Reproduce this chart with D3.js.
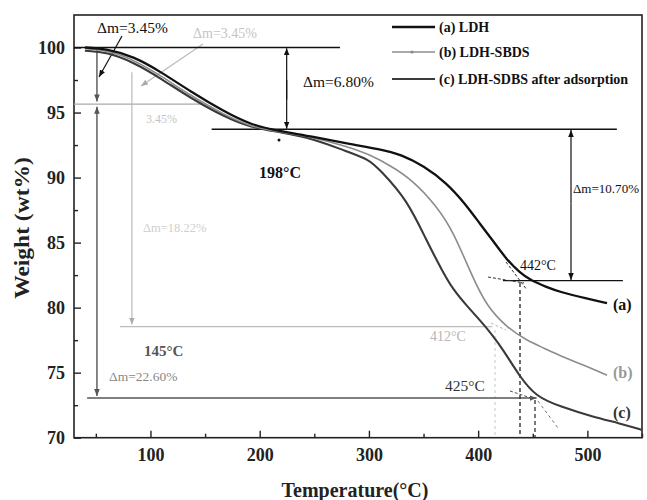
<!DOCTYPE html>
<html><head><meta charset="utf-8">
<script src="https://cdn.jsdelivr.net/npm/d3@7/dist/d3.min.js"></script>
<style>
body{margin:0;background:#fff}
text{font-family:"Liberation Serif","Times New Roman",serif}
</style>
</head><body>
<svg id="chart" width="647" height="500"></svg>
<script>
// ---- data ----
const seriesNames = ["(a) LDH", "(b) LDH-SBDS", "(c) LDH-SDBS after adsorption"];
const tempA   = [40,60,85,110,137,167,192,219,249,280,310,330,350,371,389,402,414,426,438,448,462,475,499,518];
const weightA = [100.0,99.9,99.3,98.1,96.6,95.1,94.05,93.55,93.15,92.6,92.2,91.75,90.9,89.6,87.9,86.4,85.1,83.7,82.7,82.1,81.6,81.2,80.7,80.35];
const tempB   = [40,60,85,110,137,167,192,219,249,280,300,320,340,362,377,395,408,426,444,460,475,496,518];
const weightB = [99.9,99.8,99.05,97.8,96.3,94.85,93.9,93.5,93.1,92.4,91.8,90.9,89.8,87.8,85.9,82.3,80.1,78.5,77.5,76.9,76.3,75.6,74.8];
const tempC   = [40,60,85,110,137,167,192,219,249,280,300,310,335,353,368,377,390,402,413,423,438,453,475,505,530,550];
const weightC = [99.75,99.65,98.85,97.6,96.1,94.7,93.85,93.5,93.0,92.0,91.4,90.6,88.3,85.1,82.7,81.4,80.1,79.0,77.9,76.75,74.7,73.15,72.4,71.6,71.1,70.6];
const xTicks = [100,200,300,400,500];
const yTicks = [70,75,80,85,90,95,100];
const xMinor = [50,150,250,350,450,550];
const yMinor = [72.5,77.5,82.5,87.5,92.5,97.5];

// ---- layout ----
const svg = d3.select("#chart");
const L=74, R=642, T=15, B=437.7;
const x = d3.scaleLinear().domain([30,550]).range([L,R]);
const y = d3.scaleLinear().domain([70,102.5]).range([B,T]);

// markers
const defs = svg.append("defs");
function marker(id,color){
  defs.append("marker").attr("id",id).attr("viewBox","0 0 10 10").attr("refX",10).attr("refY",5)
    .attr("markerWidth",7).attr("markerHeight",7).attr("markerUnits","userSpaceOnUse").attr("orient","auto-start-reverse")
    .append("path").attr("d","M0,1 L10,5 L0,9 z").attr("fill",color);
}
marker("arK","#111"); marker("arG","#aaa"); marker("arD","#555");

// axes
const xAxis = svg.append("g").attr("transform",`translate(0,${B})`)
  .call(d3.axisBottom(x).tickValues(xTicks).tickSizeInner(-7).tickSizeOuter(0).tickPadding(11));
const xAxisMinor = svg.append("g").attr("transform",`translate(0,${B})`)
  .call(d3.axisBottom(x).tickValues(xMinor).tickSizeInner(-4).tickSizeOuter(0).tickFormat(""));
const yAxis = svg.append("g").attr("transform",`translate(${L},0)`)
  .call(d3.axisLeft(y).tickValues(yTicks).tickSizeInner(-7).tickSizeOuter(0).tickPadding(9));
const yAxisMinor = svg.append("g").attr("transform",`translate(${L},0)`)
  .call(d3.axisLeft(y).tickValues(yMinor).tickSizeInner(-4).tickSizeOuter(0).tickFormat(""));
[xAxis,xAxisMinor,yAxis,yAxisMinor].forEach(g=>{
  g.select(".domain").remove();
  g.selectAll("line").attr("stroke","#222").attr("stroke-width",1.4);
  g.selectAll("text").attr("font-size",18).attr("font-weight","bold").attr("fill","#222")
    .style("font-family",'"Liberation Serif",serif');
});
svg.append("rect").attr("x",L).attr("y",T).attr("width",R-L).attr("height",B-T)
  .attr("fill","none").attr("stroke","#222").attr("stroke-width",1.6);

// axis titles
svg.append("text").attr("x",(L+R)/2-3).attr("y",497).attr("text-anchor","middle")
  .attr("font-size",20).attr("font-weight","bold").attr("fill","#222").text("Temperature(°C)");
svg.append("text").attr("transform","translate(29,228) rotate(-90) scale(1.12,1)").attr("text-anchor","middle")
  .attr("font-size",21).attr("font-weight","bold").attr("fill","#222").text("Weight (wt%)");

// annotation helpers (data coords)
function seg(t1,w1,t2,w2,col,wd,opts={}){
  const l = svg.append("line").attr("x1",x(t1)).attr("y1",y(w1)).attr("x2",x(t2)).attr("y2",y(w2))
    .attr("stroke",col).attr("stroke-width",wd);
  if(opts.dash) l.attr("stroke-dasharray",opts.dash);
  if(opts.end) l.attr("marker-end",`url(#${opts.end})`);
  if(opts.start) l.attr("marker-start",`url(#${opts.start})`);
  return l;
}
function pseg(x1,y1,x2,y2,col,wd,opts={}){
  const l = svg.append("line").attr("x1",x1).attr("y1",y1).attr("x2",x2).attr("y2",y2)
    .attr("stroke",col).attr("stroke-width",wd);
  if(opts.dash) l.attr("stroke-dasharray",opts.dash);
  if(opts.end) l.attr("marker-end",`url(#${opts.end})`);
  return l;
}
function label(px,py,txt,col,size,bold){
  return svg.append("text").attr("x",px).attr("y",py).attr("fill",col).attr("font-size",size)
    .attr("font-weight",bold?"bold":"normal").text(txt);
}

// gray (b) annotations
seg(30,95.65,148,95.65,"#aaa",1.2);
seg(83,98.1,83,78.7,"#bbb",1.2,{end:"arG"});
seg(72,78.54,413,78.54,"#bbb",1.4);
pseg(203,44,141,86,"#bbb",1.2,{end:"arG"});
label(193,38,"Δm=3.45%","#c4c4c4",14,false);
label(146,123,"3.45%","#c4c4c4",12,false);
label(143,232,"Δm=18.22%","#cfcfcf",12.5,false);
label(430,341,"412°C","#b5b5b5",14,false);
pseg(491,323,506,330,"#bbb",1,{dash:"3,2"});
pseg(495,330,495,436,"#dadada",1.5,{dash:"3,3"});

// dark (c) annotations
seg(51,100,51,95.85,"#555",1.4,{end:"arD"});
seg(51,95.45,51,73.2,"#555",1.4,{end:"arD",start:"arD"});
seg(42,73.05,453.5,73.05,"#555",1.4,{end:"arD"});
label(144,356,"145°C","#555",15,true);
label(109,381,"Δm=22.60%","#888",13.5,false);
label(445,391,"425°C","#333",15.5,false);
pseg(510,391,531,398,"#555",1,{dash:"3,2"});
pseg(538,401,558,428,"#777",1,{dash:"3,3"});
pseg(535,400,535,437,"#333",1.3,{dash:"4,3"});

// black (a) annotations
seg(30,100,273.5,100,"#111",1.4);
seg(156,93.71,527,93.71,"#111",1.4);
seg(224.7,96,224.7,99.95,"#111",1.2,{end:"arK"});
seg(224.7,97.5,224.7,93.76,"#111",1.2,{end:"arK"});
seg(485,88,485,93.66,"#111",1.2,{end:"arK"});
seg(485,88,485,82.13,"#111",1.2,{end:"arK"});
seg(422.7,82.08,532.5,82.08,"#111",1.4);
label(303,87,"Δm=6.80%","#111",15.5,false);
label(573,193,"Δm=10.70%","#111",13,false).attr("textLength",66).attr("lengthAdjust","spacingAndGlyphs");
label(520,270,"442°C","#111",14,false);
label(259,178,"198°C","#111",16,true);
pseg(488,277,524,283,"#333",1,{dash:"3,2"});
pseg(506,262,527,290,"#333",1,{dash:"3,2"});
pseg(520,283,520,437,"#222",1.3,{dash:"4,3"});
pseg(122,36,99,77,"#111",1.2,{end:"arK"});
label(97,33,"Δm=3.45%","#111",15.5,false);
svg.append("circle").attr("cx",279).attr("cy",140).attr("r",1.5).attr("fill","#111");

// curves
const line = d3.line().x(d=>x(d[0])).y(d=>y(d[1])).curve(d3.curveBasis);
const series = [
  {t:tempA,w:weightA,col:"#111",wd:2.3},
  {t:tempB,w:weightB,col:"#8c8c8c",wd:1.6},
  {t:tempC,w:weightC,col:"#3a3a3a",wd:2.1}
];
series.slice().reverse().forEach(s=>{
  svg.append("path").datum(d3.zip(s.t,s.w)).attr("d",line)
    .attr("fill","none").attr("stroke",s.col).attr("stroke-width",s.wd);
});
label(613,310,"(a)","#111",16,true);
label(613,378,"(b)","#999",16,true);
label(613,418,"(c)","#333",16,true);

// legend
const legY=[27,52,79];
seriesNames.forEach((n,i)=>{
  const s=series[i];
  svg.append("line").attr("x1",392).attr("x2",435).attr("y1",legY[i]).attr("y2",legY[i])
    .attr("stroke",s.col).attr("stroke-width",s.wd);
  if(i===1) svg.append("circle").attr("cx",412).attr("cy",legY[i]).attr("r",1.6).attr("fill",s.col);
  svg.append("text").attr("x",439).attr("y",legY[i]+4.5).attr("font-size",14).attr("font-weight","bold")
    .attr("fill","#111").text(n);
});
</script>
</body></html>
